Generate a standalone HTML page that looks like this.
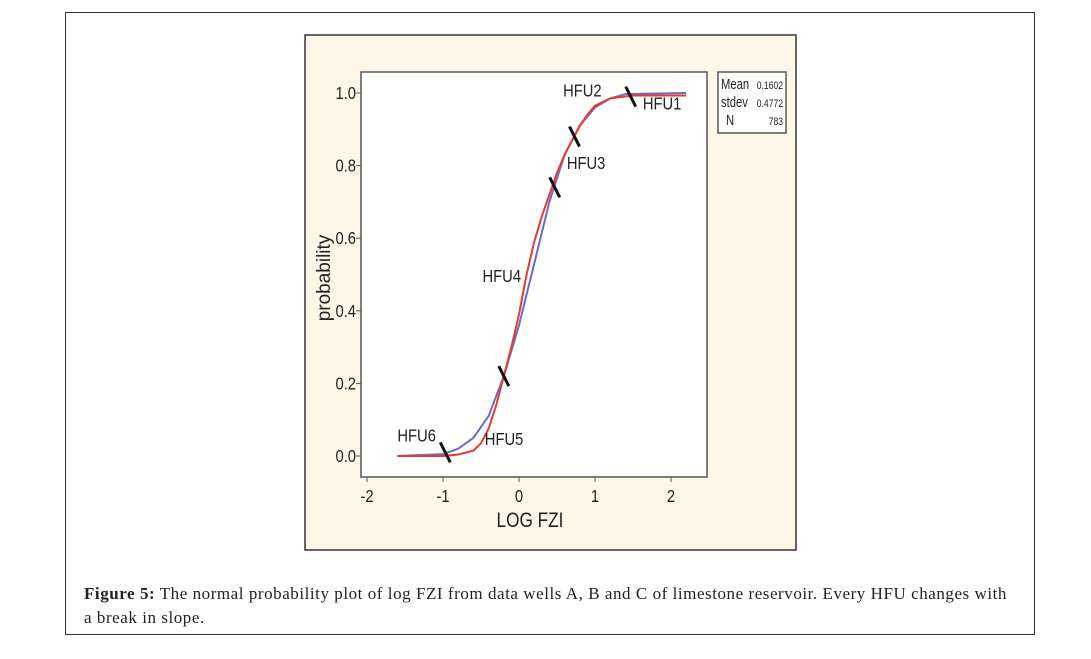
<!DOCTYPE html>
<html><head><meta charset="utf-8">
<style>
body{margin:0;width:1091px;height:659px;background:#fff;position:relative;overflow:hidden;font-family:"Liberation Sans",sans-serif}
#outer{position:absolute;left:65px;top:12px;width:970px;height:623px;border:1px solid #333;box-sizing:border-box}
#cap{position:absolute;left:84px;top:582px;width:950px;font-family:"Liberation Serif",serif;font-size:17px;line-height:24px;color:#222;letter-spacing:0.55px;white-space:nowrap}
svg{position:absolute;left:0;top:0}
</style></head><body>
<div id="outer"></div>
<svg id="chart" width="1091" height="659"></svg>
<div id="cap"><b>Figure 5:</b> The normal probability plot of log FZI from data wells A, B and C of limestone reservoir. Every HFU changes with<br>a break in slope.</div>
<script>
const xTicks=[-2,-1,0,1,2];
const yTicks=[0.0,0.2,0.4,0.6,0.8,1.0];
const redX=[-1.6,-1.0,-0.8,-0.6,-0.5,-0.4,-0.3,-0.2,-0.1,0,0.1,0.2,0.3,0.4,0.5,0.6,0.7,0.8,0.9,1.0,1.2,1.5,2.2];
const redY=[0,0,0.004,0.015,0.035,0.075,0.14,0.22,0.3,0.39,0.5,0.59,0.66,0.72,0.78,0.83,0.87,0.91,0.94,0.965,0.985,0.993,0.993];
const blueX=[-1.6,-1.0,-0.8,-0.6,-0.4,-0.2,0,0.2,0.4,0.6,0.8,1.0,1.2,1.4,2.2];
const blueY=[0,0.005,0.02,0.05,0.11,0.22,0.36,0.53,0.7,0.83,0.91,0.96,0.985,0.997,1.0];
const breakX=[-0.97,-0.2,0.47,0.73,1.47];
const breakY=[0.01,0.22,0.74,0.88,0.99];
const hfuLabels=["HFU6","HFU5","HFU4","HFU3","HFU2","HFU1"];
const hfuX=[-1.6,-0.45,-0.48,0.63,0.58,1.63];
const hfuY=[0.04,0.03,0.48,0.79,0.99,0.955];
const stats=[["Mean","0.1602"],["stdev","0.4772"],["N","783"]];
const NS="http://www.w3.org/2000/svg";
const svg=document.getElementById('chart');
const X=v=>519+76*v, Y=p=>456-363*p;
function mk(t,a,parent){const e=document.createElementNS(NS,t);for(const k in a)e.setAttribute(k,a[k]);(parent||svg).appendChild(e);return e;}
function nt(x,y,size,anchor,txt,sx){const e=mk('text',{x:0,y:0,'text-anchor':anchor,'font-size':size,fill:'#222',transform:`translate(${x},${y}) scale(${sx||0.82},1)`});e.textContent=txt;return e;}
let e;
e=mk('rect',{x:305,y:35,width:491,height:515,fill:'#fcf7e6',stroke:'#333','stroke-width':1.5});


e=mk('rect',{x:361,y:72,width:346,height:405,fill:'#fff',stroke:'#555','stroke-width':1.5});


xTicks.forEach(v=>{
 e=mk('line',{x1:X(v),x2:X(v),y1:477,y2:482,stroke:'#555'});
 
 
 e=nt(X(v),502,18,'middle',v);
 
 
});
yTicks.forEach(v=>{
 e=mk('line',{x1:356,x2:361,y1:Y(v),y2:Y(v),stroke:'#555'});
 
 
 e=nt(356,Y(v)+6,18,'end',v.toFixed(1));
 
 
});
e=nt(530,527,21,'middle','LOG FZI');


e=mk('text',{x:0,y:0,'text-anchor':'middle','font-size':19,fill:'#222',transform:'translate(330,278) rotate(-90)'});
e.textContent='probability';


e=mk('polyline',{points:blueX.map((v,i)=>X(v)+','+Y(blueY[i])).join(' '),fill:'none',stroke:'#6a6ad0','stroke-width':2});


e=mk('polyline',{points:redX.map((v,i)=>X(v)+','+Y(redY[i])).join(' '),fill:'none',stroke:'#e83a2a','stroke-width':2});


breakX.forEach((v,i)=>{
 e=mk('line',{x1:X(v)-5,y1:Y(breakY[i])-10,x2:X(v)+5,y2:Y(breakY[i])+10,stroke:'#111','stroke-width':3});
 
 
});
hfuLabels.forEach((t,i)=>{
 e=nt(X(hfuX[i]),Y(hfuY[i]),18,'start',t);
 
 
});
e=mk('rect',{x:718,y:72,width:68,height:61,fill:'#fff',stroke:'#555','stroke-width':1.5});


stats.forEach((s,i)=>{
 e=nt(i==2?726:721,89+i*18,15,'start',s[0],0.75);
 
 
 e=nt(783,89+i*18,11,'end',s[1],0.78);
 
 
});
</script>
</body></html>
